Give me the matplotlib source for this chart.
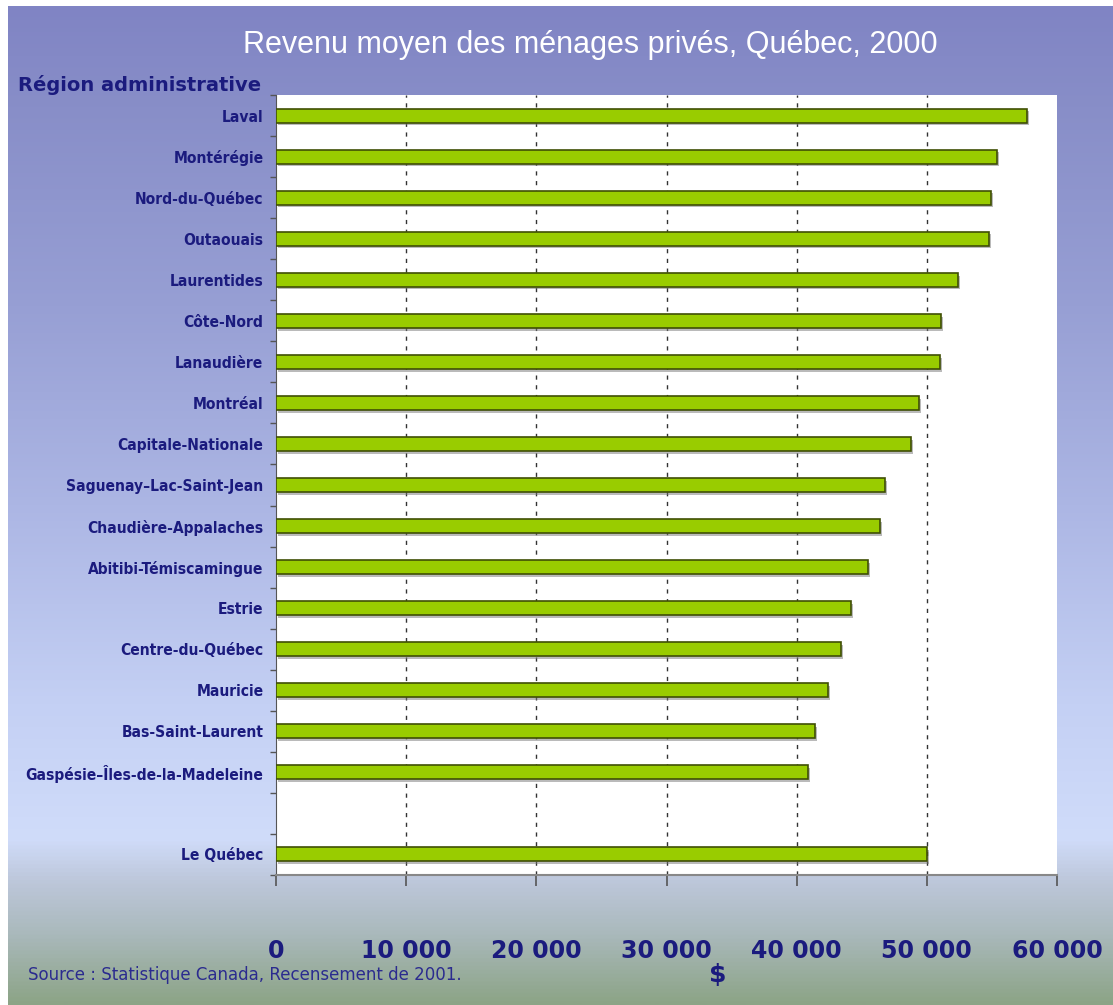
import matplotlib
matplotlib.use("Agg")
from matplotlib import pyplot as plt
import matplotlib.colors as mcolors
from matplotlib import font_manager
import matplotlib.patheffects as pe
import numpy as np

regions = [
    "Laval", "Montérégie", "Nord-du-Québec", "Outaouais", "Laurentides",
    "Côte-Nord", "Lanaudière", "Montréal", "Capitale-Nationale",
    "Saguenay–Lac-Saint-Jean", "Chaudière-Appalaches", "Abitibi-Témiscamingue",
    "Estrie", "Centre-du-Québec", "Mauricie", "Bas-Saint-Laurent",
    "Gaspésie–Îles-de-la-Madeleine",
]
revenus = [
    57700, 55400, 54900, 54800, 52400,
    51100, 51000, 49400, 48800,
    46800, 46400, 45500,
    44200, 43400, 42400, 41400,
    40900,
]
total_label = "Le Québec"
total_value = 50000

xticks = [0, 10000, 20000, 30000, 40000, 50000, 60000]
xtick_labels = ["0", "10 000", "20 000", "30 000", "40 000", "50 000", "60 000"]

navy = "#1b1b7e"
bar_color = "#99cc00"
bar_edge = "#3f4f05"

available = {f.name for f in font_manager.fontManager.ttflist}
title_font = "Liberation Sans" if "Liberation Sans" in available else "DejaVu Sans"

fig = plt.figure(figsize=(11.13, 10.05), dpi=100)
fig.patch.set_facecolor("white")

# background gradient panel
bg = fig.add_axes([8 / 1113, 0, 1 - 8 / 1113, 1 - 6 / 1005])
stops = [
    (0.00, "#8084c4"),
    (0.10, "#888ec8"),
    (0.30, "#979fd4"),
    (0.50, "#acb6e4"),
    (0.70, "#c4d0f4"),
    (0.835, "#d0dcfa"),
    (0.875, "#bec8dc"),
    (0.93, "#aab9bc"),
    (1.00, "#8ca486"),
]
cmap = mcolors.LinearSegmentedColormap.from_list("bg", stops)
grad = np.linspace(0, 1, 512).reshape(-1, 1)
bg.imshow(grad, aspect="auto", cmap=cmap, extent=[0, 1, 1, 0])
bg.set_xlim(0, 1)
bg.set_ylim(1, 0)
bg.axis("off")

ax = fig.add_axes([276 / 1113, 1 - 875 / 1005, (1057 - 276) / 1113, (875 - 95) / 1005])
ax.set_facecolor("white")

pos = list(range(len(regions))) + [len(regions) + 1]
labels = regions + [total_label]
values = revenus + [total_value]

bars = ax.barh(pos, values, height=0.34, color=bar_color, edgecolor=bar_edge,
               linewidth=1.2, zorder=3)
for b in bars:
    b.set_path_effects([pe.SimplePatchShadow(offset=(1.5, -2), shadow_rgbFace="#777777", alpha=0.5),
                        pe.Normal()])

ax.set_xlim(0, 60000)
ax.set_ylim(len(regions) + 1.5, -0.5)

for x in xticks[1:-1]:
    ax.axvline(x, color="#333333", linewidth=1.0, linestyle=(0, (3, 4)), zorder=1)

ax.set_yticks(pos)
ax.set_yticklabels(labels, fontfamily="DejaVu Sans", fontstretch="condensed",
                   fontweight="bold", fontsize=11.2, color=navy)
ax.tick_params(axis="y", which="major", length=0, pad=9)
ax.set_yticks(np.arange(-0.5, len(regions) + 2, 1), minor=True)
ax.tick_params(axis="y", which="minor", length=4, width=1, color="#555555", direction="out")

ax.set_xticks(xticks)
ax.set_xticklabels(xtick_labels, fontfamily="DejaVu Sans", fontweight="bold", fontsize=17, color=navy)
ax.tick_params(axis="x", length=8, width=1.2, color="#555555", pad=38, direction="out")

for s in ["top", "right"]:
    ax.spines[s].set_visible(False)
ax.spines["left"].set_color("#555555")
ax.spines["bottom"].set_color("#888888")
ax.spines["bottom"].set_linewidth(1.5)

fig.text(590 / 1113, 1 - 45 / 1005, "Revenu moyen des ménages privés, Québec, 2000",
         ha="center", va="center", fontsize=22, color="white", fontfamily=title_font)
fig.text(18 / 1113, 1 - 85 / 1005, "Région administrative", ha="left", va="center",
         fontsize=14, fontweight="bold", color=navy, fontfamily="DejaVu Sans")
fig.text(28 / 1113, 1 - 975 / 1005, "Source : Statistique Canada, Recensement de 2001.",
         ha="left", va="center", fontsize=12, color="#2b2b8f", fontfamily="DejaVu Sans")
fig.text(718 / 1113, 1 - 975 / 1005, "$", ha="center", va="center",
         fontsize=18, fontweight="bold", color=navy, fontfamily="DejaVu Sans")

fig.savefig("out.png", dpi=100)
